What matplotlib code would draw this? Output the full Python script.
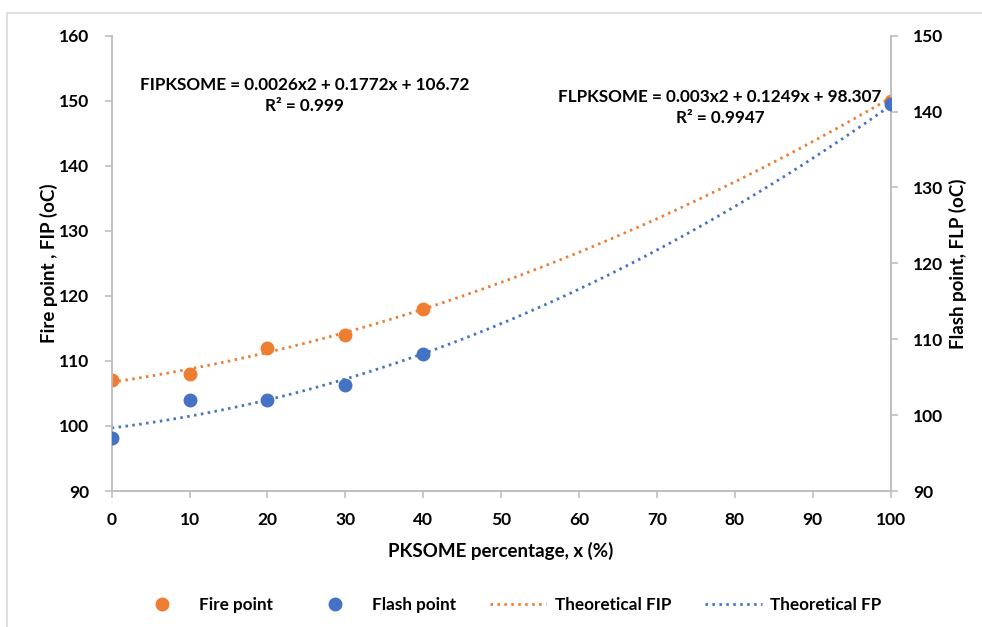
import numpy as np
import matplotlib.pyplot as plt
from matplotlib.patches import Rectangle

# data
pksome = [0, 10, 20, 30, 40, 100]
fire_point = [107, 108, 112, 114, 118, 150]    # left axis
flash_point = [97, 102, 102, 104, 108, 141]    # right axis

# trendline coefficients as printed on the chart (x^2, x, const)
fip_coef = [0.0026, 0.1772, 106.72]
flp_coef = [0.003, 0.1249, 98.307]

orange = '#ED7D31'
blue = '#4472C4'
grey = '#BFBFBF'

plt.rcParams['font.family'] = ['Lato', 'DejaVu Sans']
plt.rcParams['font.weight'] = 'bold'

fig = plt.figure(figsize=(9.82, 6.27), dpi=100)
ax = fig.add_axes([0.1137, 0.2169, 0.7933, 0.7262])
ax2 = ax.twinx()

# outer chart border
fig.patches.append(Rectangle((7 / 982, -0.05), 1.1, 1 - 13 / 627 + 0.05,
                             transform=fig.transFigure, fill=False,
                             edgecolor='#D9D9D9', lw=1.2, zorder=0))

xs = np.linspace(0, 100, 200)
l_fip, = ax.plot(xs, np.polyval(fip_coef, xs), color=orange, lw=2,
                 ls=(0, (0.9, 1.6)), label='Theoretical FIP', zorder=2)
l_flp, = ax2.plot(xs, np.polyval(flp_coef, xs), color=blue, lw=2,
                  ls=(0, (0.9, 1.6)), label='Theoretical FP', zorder=2)
p_fire, = ax.plot(pksome, fire_point, 'o', color=orange, ms=9,
                  label='Fire point', zorder=3)
p_flash, = ax2.plot(pksome, flash_point, 'o', color=blue, ms=9,
                    label='Flash point', zorder=3)

ax.set_xlim(0, 100)
ax.set_ylim(90, 160)
ax2.set_ylim(90, 150)
ax.set_xticks(range(0, 101, 10))
ax.set_yticks(range(90, 161, 10))
ax2.set_yticks(range(90, 151, 10))

for a in (ax, ax2):
    a.spines['top'].set_visible(False)
    for s in ('left', 'right', 'bottom'):
        a.spines[s].set_color(grey)
        a.spines[s].set_linewidth(1.2)
    a.tick_params(colors=grey, length=5, width=1.2, labelsize=12.5,
                  labelcolor='black')
ax.tick_params(axis='x', pad=10)
ax.tick_params(axis='y', pad=11)
ax2.tick_params(axis='y', pad=11)

ax.set_xlabel('PKSOME percentage, x (%)', fontsize=13.5, fontweight='bold',
              labelpad=10)
ax.set_ylabel('Fire point , FIP (oC)', fontsize=13.5, fontweight='bold',
              labelpad=1)
ax2.set_ylabel('Flash point, FLP (oC)', fontsize=13.5, fontweight='bold',
               labelpad=4)

ax.text(0.248, 0.868, 'FIPKSOME = 0.0026x2 + 0.1772x + 106.72\nR² = 0.999',
        transform=ax.transAxes, ha='center', va='center', fontsize=12.3,
        fontweight='bold', linespacing=1.4)
ax.text(0.781, 0.842, 'FLPKSOME = 0.003x2 + 0.1249x + 98.307\nR² = 0.9947',
        transform=ax.transAxes, ha='center', va='center', fontsize=12.3,
        fontweight='bold', linespacing=1.4)

fig.legend(handles=[p_fire, p_flash, l_fip, l_flp], loc='center',
           bbox_to_anchor=(0.517, 0.035), ncol=4, frameon=False,
           fontsize=12.3, handlelength=3.3, handletextpad=0.5,
           columnspacing=2.0)

plt.savefig('out.png', dpi=100)
